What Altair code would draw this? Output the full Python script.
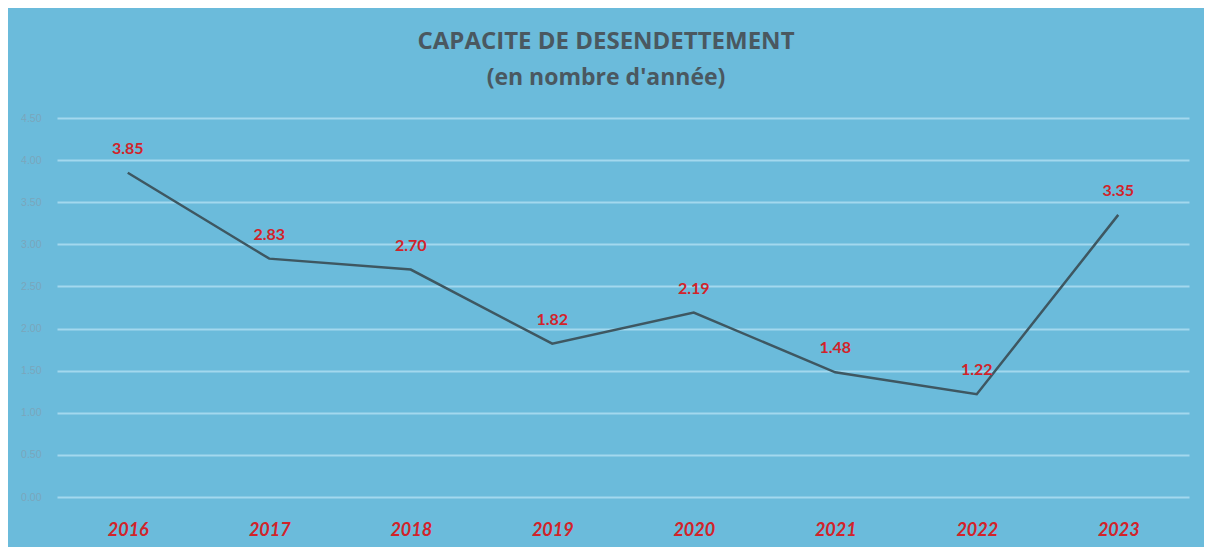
import altair as alt
import pandas as pd

years = ["2016", "2017", "2018", "2019", "2020", "2021", "2022", "2023"]
values = [3.85, 2.83, 2.70, 1.82, 2.19, 1.48, 1.22, 3.35]
y_ticks = [0, 0.5, 1, 1.5, 2, 2.5, 3, 3.5, 4, 4.5]

df = pd.DataFrame({"year": years, "value": values})

BG = "#6bbbdb"
RED = "#d2232a"

base = alt.Chart(df).encode(
    x=alt.X("year:N", sort=years, title=None,
            scale=alt.Scale(paddingInner=0, paddingOuter=0.5),
            axis=alt.Axis(labelAngle=0, labelFont="Lato", labelFontSize=18,
                          labelFontWeight="bold", labelFontStyle="italic",
                          labelColor=RED, labelPadding=24, ticks=False,
                          domain=False, grid=False)),
    y=alt.Y("value:Q", title=None,
            scale=alt.Scale(domain=[0, 4.5], nice=False),
            axis=alt.Axis(values=y_ticks, format=".2f", labelFont="Liberation Sans",
                          labelFontSize=10.5, labelColor="#7aa6bb", labelPadding=16,
                          ticks=False, domain=False, gridColor="#a3d8ee",
                          gridWidth=2)),
)

line = base.mark_line(color="#3e5761", strokeWidth=2.5)
labels = base.mark_text(dy=-24, font="Lato", fontSize=16, fontWeight="bold",
                        color=RED).encode(text=alt.Text("value:Q", format=".2f"))

chart = (line + labels).properties(
    width=1132, height=379,
    autosize=alt.AutoSizeParams(type="none"),
    padding={"left": 49, "top": 110, "right": 15, "bottom": 60},
    background=BG,
    title=alt.TitleParams(
        text="CAPACITE DE DESENDETTEMENT",
        subtitle="(en nombre d'année)",
        font="Open Sans", fontSize=24, fontWeight="bold", color="#4a5860",
        subtitleFont="Open Sans", subtitleFontSize=23, subtitleFontWeight="bold",
        subtitleColor="#4a5860", subtitlePadding=13,
        anchor="middle", dx=-17, offset=23,
    ),
).configure_view(stroke=None)

chart.save("out.html", embed_options={"renderer": "svg", "actions": False})
